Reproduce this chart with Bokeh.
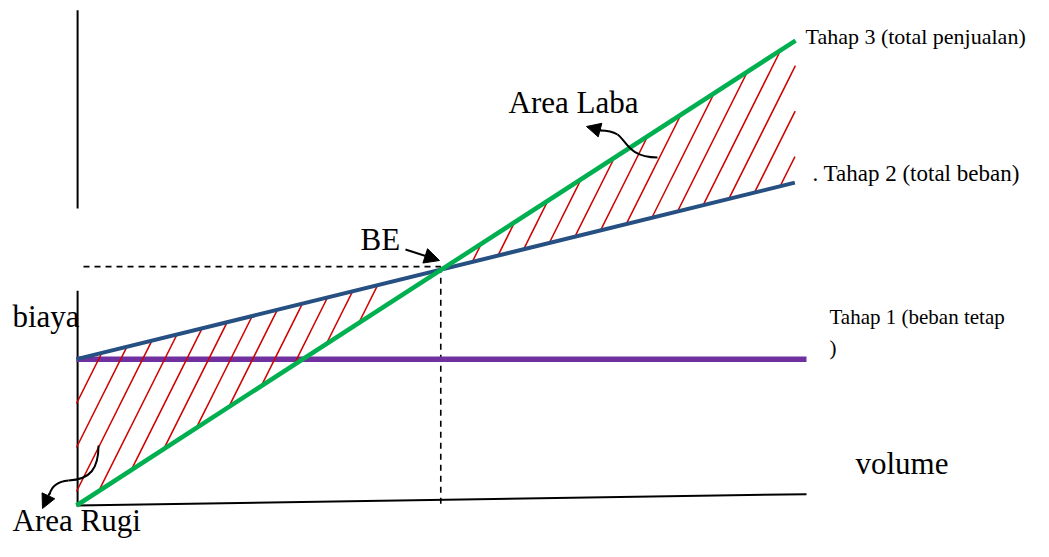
from bokeh.plotting import figure
from bokeh.models import Range1d, Label, Arrow, NormalHead
from bokeh.embed import file_html
from bokeh.resources import INLINE

# ---- chart values (conceptual units: volume 0..100, value 0..100) ----
vol_sales = [0, 98.5]          # Tahap 3 (total penjualan)
sales = [0, 98.5]
vol_cost = [0, 98.4]           # Tahap 2 (total beban)
total_cost = [31, 68.4]
vol_fixed = [0, 100]           # Tahap 1 (beban tetap)
fixed_cost = [31, 31]
be_point = [49.9, 50.6]
x_axis_v = [0, 100]
x_axis_c = [0, 2.4]
y_axis_upper = [62.9, 104.9]
y_axis_lower = [0, 45.5]

labels = ["Tahap 3 (total penjualan)", "Area Laba", ". Tahap 2 (total beban)", "BE",
          "biaya", "Tahap 1 (beban tetap", ")", "volume", "Area Rugi"]

# ---- layout / scales ----
W, H = 1033, 541
SX, SY = 7.3, 4.72             # px per unit
OX, OY = 76, 505               # canvas px of the origin
xr0 = -OX / SX
xr1 = xr0 + W / SX
yr1 = OY / SY
yr0 = yr1 - H / SY


def to_data(px, py):
    return (px - OX) / SX, (OY - py) / SY


p = figure(width=W, height=H, output_backend="svg", toolbar_location=None,
           x_range=Range1d(xr0, xr1), y_range=Range1d(yr0, yr1),
           min_border=0, outline_line_color=None)
p.axis.visible = False
p.grid.visible = False
p.background_fill_color = "white"
p.border_fill_color = "white"

GREEN = "#00b050"
BLUE = "#264f82"
PURPLE = "#7030a0"
RED = "#cc0000"
SERIF = "Liberation Serif"

# axes (hand-drawn style)
p.line([0.15, 0.15], y_axis_upper, line_color="black", line_width=2)
p.line([0.15, 0.15], y_axis_lower, line_color="black", line_width=2)
p.line(x_axis_v, x_axis_c, line_color="black", line_width=2)

# dashed BE guides
p.line([to_data(83, 0)[0], be_point[0]], [be_point[1], be_point[1]],
       line_color="black", line_width=1.6, line_dash="6 5")
p.line([be_point[0], be_point[0]], [be_point[1], 0],
       line_color="black", line_width=1.6, line_dash="6 5")

# fixed cost
p.line(vol_fixed, fixed_cost, line_color=PURPLE, line_width=5.5)

# ---- hatching (computed from the lines) ----
def intersect(a0, a1, b0, b1):
    (x1, y1), (x2, y2) = a0, a1
    (x3, y3), (x4, y4) = b0, b1
    d = (x1 - x2) * (y3 - y4) - (y1 - y2) * (x3 - x4)
    t = ((x1 - x3) * (y3 - y4) - (y1 - y3) * (x3 - x4)) / d
    return (x1 + t * (x2 - x1), y1 + t * (y2 - y1))


be = intersect((vol_sales[0], sales[0]), (vol_sales[1], sales[1]),
               (vol_cost[0], total_cost[0]), (vol_cost[1], total_cost[1]))
slope = 2.0 * SX / SY  # steep hatch (2 px up per px right)


def clip(poly, vb):
    pts = []
    n = len(poly)
    for i in range(n):
        (av, ac), (bv, bc) = poly[i], poly[(i + 1) % n]
        fa = ac - slope * (av - vb)
        fb = bc - slope * (bv - vb)
        if fa == fb:
            continue
        if (fa <= 0 <= fb) or (fb <= 0 <= fa):
            t = fa / (fa - fb)
            pts.append(av + t * (bv - av))
    if len(pts) < 2:
        return None
    v0, v1 = min(pts), max(pts)
    if v1 - v0 < 0.3:
        return None
    return v0, slope * (v0 - vb), v1, slope * (v1 - vb)


loss_poly = [(vol_sales[0], sales[0]), be, (vol_cost[0], total_cost[0])]
profit_poly = [be, (vol_sales[1], sales[1]), (vol_cost[1], total_cost[1])]
hx0, hy0, hx1, hy1 = [], [], [], []
for poly, start, stop, step in [(loss_poly, 25, 268, 22), (profit_poly, 350, 622, 22.5)]:
    xb = start
    while xb <= stop:
        seg = clip(poly, (xb - OX) / SX)
        if seg:
            hx0.append(seg[0]); hy0.append(seg[1]); hx1.append(seg[2]); hy1.append(seg[3])
        xb += step
p.segment(hx0, hy0, hx1, hy1, line_color=RED, line_width=1.5)

# total cost and sales
p.line(vol_cost, total_cost, line_color=BLUE, line_width=4)
p.line(vol_sales, sales, line_color=GREEN, line_width=4.5)

# ---- arrows ----
def bez(pts):
    (a, b, c, d) = [to_data(*q) for q in pts]
    p.bezier(x0=[a[0]], y0=[a[1]], cx0=[b[0]], cy0=[b[1]], cx1=[c[0]], cy1=[c[1]],
             x1=[d[0]], y1=[d[1]], line_color="black", line_width=2)


def arrow(s, e, size=14):
    s, e = to_data(*s), to_data(*e)
    p.add_layout(Arrow(end=NormalHead(size=size, fill_color="black", line_color="black", line_width=1),
                       x_start=s[0], y_start=s[1], x_end=e[0], y_end=e[1],
                       line_color="black", line_width=2))


# BE arrow
arrow((405, 249), (439, 260), size=15)
# Area Laba arrow
bez([(657, 157), (628, 157), (626, 140), (617, 134)])
bez([(617, 134), (612, 131), (606, 130), (600, 130)])
arrow((601, 130), (586, 126), size=14)
# Area Rugi arrow
bez([(98, 445), (98, 468), (90, 479), (68, 480)])
bez([(68, 480), (56, 481), (51, 486), (49, 494)])
arrow((49, 493), (42, 508), size=14)

# ---- texts ----
TEXT_DY = -9   # compensation for how the label baseline lands on the canvas
text_specs = [
    (805, 45, 22), (508, 111, 31), (812, 182, 23), (360, 248, 31),
    (12, 325, 31), (829, 325, 21), (829, 356, 21), (855, 472, 31), (12, 529, 31),
]
for t, (px, py, fs) in zip(labels, text_specs):
    x, y = to_data(px, py + TEXT_DY)
    p.add_layout(Label(x=x, y=y, text=t, text_font=SERIF, text_font_size=f"{fs}px",
                       text_baseline="alphabetic", text_align="left", text_color="black"))

open("out.html", "w").write(file_html(p, INLINE))
